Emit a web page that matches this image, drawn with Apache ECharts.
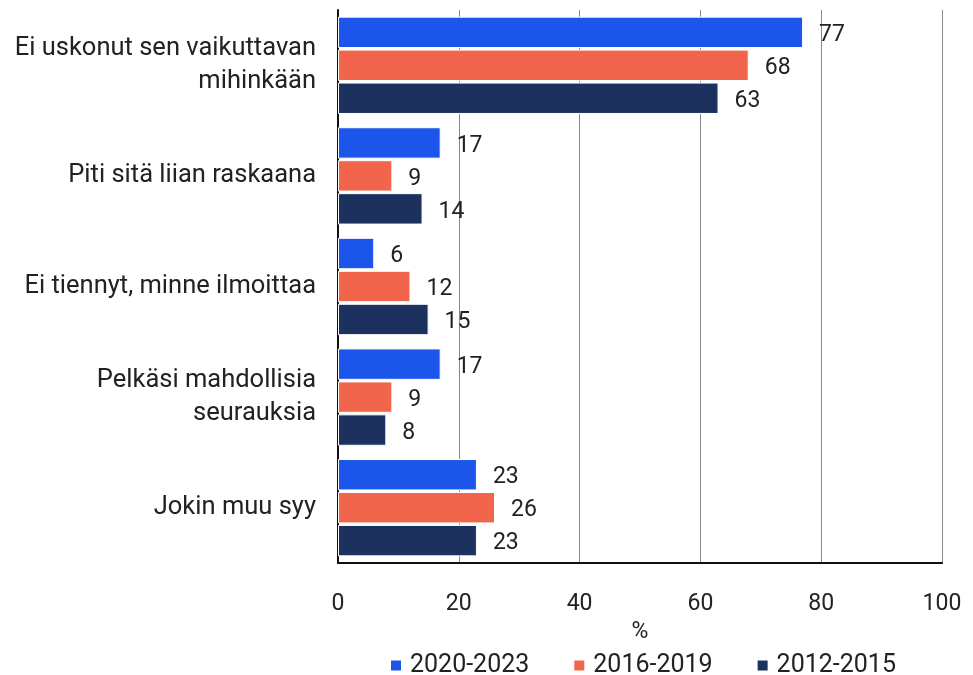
<!DOCTYPE html>
<html>
<head>
<meta charset="utf-8">
<script src="https://cdn.jsdelivr.net/npm/echarts@6/dist/echarts.min.js"></script>
<style>
  html, body { margin: 0; padding: 0; background: #fff; }
  #chart { width: 973px; height: 675px; }
</style>
</head>
<body>
<div id="chart"></div>
<script>
// Reasons for not reporting, share of respondents (%)
const categories = [
  'Ei uskonut sen vaikuttavan\nmihinkään',
  'Piti sitä liian raskaana',
  'Ei tiennyt, minne ilmoittaa',
  'Pelkäsi mahdollisia\nseurauksia',
  'Jokin muu syy'
];
const seriesNames = ['2020-2023', '2016-2019', '2012-2015'];
const values2020_2023 = [77, 17, 6, 17, 23];
const values2016_2019 = [68, 9, 12, 9, 26];
const values2012_2015 = [63, 14, 15, 8, 23];
const colors = ['#1B55EA', '#F2654D', '#1C315E'];

const font = 'Roboto, "Noto Sans", sans-serif';
const seriesData = [values2020_2023, values2016_2019, values2012_2015];

const chart = echarts.init(document.getElementById('chart'));
chart.setOption({
  animation: false,
  textStyle: { fontFamily: font },
  grid: { left: 338, right: 31, top: 10, bottom: 112, containLabel: false },
  legend: {
    top: 648,
    left: 384,
    itemWidth: 12,
    itemHeight: 12,
    itemGap: 43,
    icon: 'rect',
    textStyle: { fontSize: 25, color: '#222', fontFamily: font, padding: [0, 0, 0, 3] },
    data: seriesNames
  },
  xAxis: {
    type: 'value',
    min: 0,
    max: 100,
    interval: 20,
    name: '%',
    nameLocation: 'middle',
    nameGap: 55,
    nameTextStyle: { fontSize: 23, color: '#222' },
    axisLine: { show: true, lineStyle: { color: '#111', width: 2 } },
    axisTick: { show: false },
    axisLabel: { fontSize: 23, color: '#222', margin: 30 },
    splitLine: { show: true, lineStyle: { color: '#888', width: 1 } }
  },
  yAxis: {
    type: 'category',
    inverse: true,
    data: categories,
    axisLine: { show: true, lineStyle: { color: '#111', width: 2 } },
    axisTick: { show: false },
    axisLabel: { fontSize: 25.5, color: '#222', margin: 22, lineHeight: 33, align: 'right' }
  },
  series: seriesNames.map((name, i) => ({
    name: name,
    type: 'bar',
    data: seriesData[i],
    barCategoryGap: '12%',
    barGap: '5%',
    itemStyle: { color: colors[i], borderColor: '#fff', borderWidth: 1 },
    label: {
      show: true,
      position: 'right',
      distance: 16,
      offset: [0, 3],
      fontSize: 23,
      color: '#222'
    }
  }))
});
</script>
</body>
</html>
